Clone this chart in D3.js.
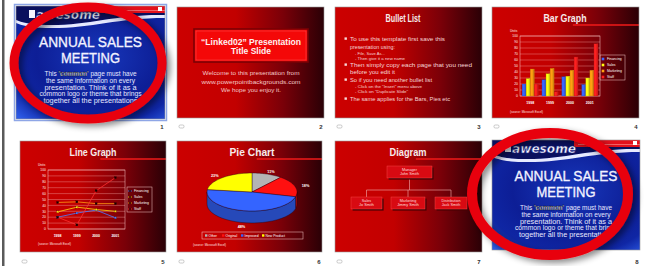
<!DOCTYPE html>
<html><head><meta charset="utf-8">
<script src="https://cdn.jsdelivr.net/npm/d3@7"></script>
<style>html,body{margin:0;padding:0;background:#fff;}svg{display:block}</style>
</head><body><svg id="c" width="645" height="266"></svg>
<script>
// ---------- data ----------
const years = ["1998", "1999", "2000", "2001"];
const seriesNames = ["Financing", "Sales", "Marketing", "Staff"];
const financing = [20, 27, 32, 19];
const sales = [29, 37, 33, 30];
const marketing = [45, 46, 43, 43];
const staff = [20, 7, 65, 87];
const axisTicks = [0, 10, 20, 30, 40, 50, 60, 70, 80, 90, 100];
const pieNames = ["Other", "Original", "Improved", "New Product"];
const pieValues = [11, 18, 48, 23];
const slideNumbers = ["1", "2", "3", "4", "5", "6", "7", "8"];
const slideTitles = ["ANNUAL SALES|MEETING", "“Linked02” Presentation|Title Slide", "Bullet List", "Bar Graph", "Line Graph", "Pie Chart", "Diagram", "ANNUAL SALES|MEETING"];
const introLines = ["This 'common' page must have", "the same information on every", "presentation. Think of it as a", "common logo or theme that brings", "together all the presentations"];
const welcomeLines = ["Welcome to this presentation from", "www.powerpointbackgrounds.com", "We hope you enjoy it."];
const bulletText = ["To use this template first save this", "presentation using:", "- File, Save As...", "- Then give it a new name", "Then simply copy each page that you need", "before you edit it", "So if you need another bullet list", "- Click on the \"Insert\" menu above", "- Click on \"Duplicate Slide\"", "The same applies for the Bars, Pies etc"];
const bulletLevel = [0, 0, 1, 1, 0, 0, 0, 1, 1, 0];
const bulletMark = [1, 0, 0, 0, 1, 0, 1, 0, 0, 1];
const orgTop = ["Manager", "John Smith"];
const orgStaff = [["Sales", "Jo Smith"], ["Marketing", "Jimmy Smith"], ["Distribution", "Jack Smith"]];
const unitsLabel = "Units";
const sourceLabel = "(source: Microsoft Excel)";
const logoText = "awesome";

// ---------- setup ----------
const svg = d3.select("#c");
const defs = svg.append("defs");
const NARROW = "'Liberation Sans Narrow','Arial Narrow','Liberation Sans',Arial,sans-serif";
const SANS = "'Liberation Sans',Arial,sans-serif";

const rg = defs.append("linearGradient").attr("id", "redbg").attr("x1", 0).attr("x2", 1).attr("y1", 0).attr("y2", 0);
[[0, "#cc0000"], [0.4, "#c20000"], [0.72, "#7a0008"], [1, "#2a0006"]].forEach(([o, c]) => rg.append("stop").attr("offset", o).attr("stop-color", c));
const bgr = defs.append("radialGradient").attr("id", "bluebg").attr("cx", 0.55).attr("cy", 0.45).attr("r", 0.75);
[[0, "#1838bc"], [0.55, "#0d1e96"], [0.8, "#0f26a4"], [1, "#2c5ae6"]].forEach(([o, c]) => bgr.append("stop").attr("offset", o).attr("stop-color", c));
const sh = defs.append("filter").attr("id", "shadow").attr("x", "-20%").attr("y", "-20%").attr("width", "140%").attr("height", "140%");
sh.append("feDropShadow").attr("dx", 4).attr("dy", 3).attr("stdDeviation", 3).attr("flood-color", "#000").attr("flood-opacity", 0.45);

function T(g, x, y, s, o = {}) {
  const t = g.append("text").attr("x", x).attr("y", y).text(s)
    .attr("font-family", o.family || NARROW).attr("font-size", o.size || 6)
    .attr("fill", o.fill || "#fff").attr("text-anchor", o.anchor || "start");
  if (o.weight) t.attr("font-weight", o.weight);
  if (o.len) t.attr("textLength", o.len).attr("lengthAdjust", "spacingAndGlyphs");
  return t;
}

// left pane border
svg.append("rect").attr("x", 2).attr("y", 0).attr("width", 2.5).attr("height", 266).attr("fill", "#5a5a5a");

const layout = [
  {x: 16, y: 6, w: 149, h: 113, kind: "title"},
  {x: 177, y: 7, w: 147, h: 111, kind: "linked"},
  {x: 335, y: 7, w: 147, h: 111, kind: "bullets"},
  {x: 492, y: 7, w: 147, h: 111, kind: "bar"},
  {x: 20, y: 141, w: 146, h: 111, kind: "line"},
  {x: 177, y: 141, w: 145, h: 111, kind: "pie"},
  {x: 335, y: 141, w: 147, h: 111, kind: "diagram"},
  {x: 492, y: 140, w: 148, h: 110, kind: "title"}
];

const colors = {Financing: "#3a66ff", Sales: "#ffff10", Marketing: "#ffa010", Staff: "#ff2020"};
const seriesData = [financing, sales, marketing, staff];

function redBase(g, s, title, cx, len, line = true) {
  g.append("rect").attr("width", s.w).attr("height", s.h).attr("fill", "url(#redbg)");
  if (line) g.append("line").attr("x1", s.w * 0.55).attr("x2", s.w).attr("y1", 18).attr("y2", 18).attr("stroke", "#f01a1a").attr("stroke-width", 1.3);
  T(g, cx, 15, title, {size: 10, weight: "bold", anchor: "middle", fill: "#f6eaea", len: len});
}

function titleSlide(g, s, title) {
  const w = s.w;
  g.append("rect").attr("width", w).attr("height", s.h).attr("fill", "url(#bluebg)");
  g.append("path").attr("d", `M0,0 H${w} V9 C100,8 72,20 30,19 C15,19 5,16 0,14 Z`).attr("fill", "#0a105e");
  g.append("path").attr("d", `M0,14 C5,16 15,19 30,19 C72,20 100,8 ${w},9 V12 C100,12 74,23 30,22 C15,22 5,19 0,17 Z`).attr("fill", "#e6eaff");
  g.append("rect").attr("x", 82).attr("y", 0).attr("width", w - 82).attr("height", 7).attr("fill", "#e4101c");
  g.append("line").attr("x1", 86).attr("x2", w).attr("y1", 4.5).attr("y2", 4.5).attr("stroke", "#ff9a9a").attr("stroke-width", 0.6);
  g.append("rect").attr("x", w - 7).attr("y", 1).attr("width", 4).attr("height", 4).attr("fill", "#fff");
  g.append("rect").attr("x", 13).attr("y", 4).attr("width", 6).attr("height", 8).attr("fill", "#f4f4ff");
  T(g, 20, 13, logoText, {size: 12, weight: "bold", family: "DejaVu Sans", fill: "#fff", len: 64})
    .attr("font-style", "italic").attr("stroke", "#1a2a90").attr("stroke-width", 0.5);
  const [l1, l2] = title.split("|");
  T(g, w / 2, 41, l1, {size: 15, anchor: "middle", fill: "#f2f2ff", len: 103}).attr("stroke", "#f2f2ff").attr("stroke-width", 0.35);
  T(g, w / 2, 57, l2, {size: 15, anchor: "middle", fill: "#f2f2ff", len: 59}).attr("stroke", "#f2f2ff").attr("stroke-width", 0.35);
  const lens = [92, 89, 92, 102, 94];
  introLines.forEach((l, i) => {
    const t = T(g, w / 2, 70 + i * 6.8, "", {size: 6.8, anchor: "middle", fill: "#e6e8ff", len: lens[i]});
    const m = l.match(/^(.*)('common')(.*)$/);
    if (m) {
      t.append("tspan").text(m[1]);
      t.append("tspan").text(m[2]).attr("font-weight", "bold").attr("fill", "#fff").attr("stroke", "#000").attr("stroke-width", 0.3);
      t.append("tspan").text(m[3]);
    } else t.text(l);
  });
}

function linkedSlide(g, s, title) {
  g.append("rect").attr("width", s.w).attr("height", s.h).attr("fill", "url(#redbg)");
  g.append("rect").attr("x", 17).attr("y", 22).attr("width", 114).attr("height", 33).attr("fill", "#f40808").attr("stroke", "#7a0004").attr("stroke-width", 1.6);
  g.append("rect").attr("x", 19).attr("y", 24).attr("width", 110).attr("height", 29).attr("fill", "none").attr("stroke", "#ff5050").attr("stroke-width", 0.5);
  const [l1, l2] = title.split("|");
  T(g, 74, 38, l1, {size: 9, weight: "bold", anchor: "middle", fill: "#fff0f0", len: 100});
  T(g, 74, 46.5, l2, {size: 9, weight: "bold", anchor: "middle", fill: "#fff0f0", len: 40});
  const lens = [97, 99, 60];
  welcomeLines.forEach((l, i) => T(g, 74, [68, 77, 85][i], l, {size: 6.2, anchor: "middle", fill: "#f4c8c8", len: lens[i]}));
}

function bulletSlide(g, s, title) {
  redBase(g, s, title, 68, 35, false);
  const ys = [34, 42, 48, 52.5, 60, 66.5, 75, 81, 86, 94];
  const lens = [95, 45, 30, 50, 122, 45, 82, 67, 53, 100];
  bulletText.forEach((t, i) => {
    const sub = bulletLevel[i] === 1;
    if (bulletMark[i]) g.append("rect").attr("x", 9.5).attr("y", ys[i] - 3.6).attr("width", 2.4).attr("height", 2.4).attr("fill", "#f8d8d8");
    T(g, sub ? 20 : 15, ys[i], t, {size: sub ? 4.4 : 6, fill: "#f6d6d6", len: lens[i]});
  });
}

function axesFrame(g, x0, x1, y) {
  axisTicks.forEach(v => {
    g.append("line").attr("x1", x0).attr("x2", x1).attr("y1", y(v)).attr("y2", y(v)).attr("stroke", "#f2a4a4").attr("stroke-width", 0.4);
    T(g, x0 - 2, y(v) + 1.2, String(v), {size: 3.4, anchor: "end", family: SANS, fill: "#ffeaea"});
  });
  g.append("rect").attr("x", x0).attr("y", y(100)).attr("width", x1 - x0).attr("height", y(0) - y(100)).attr("fill", "none").attr("stroke", "#f6caca").attr("stroke-width", 0.5);
  T(g, x0 - 10, y(100) - 4, unitsLabel, {size: 3.2, family: SANS, fill: "#ffeaea"});
}

function legendBox(g, x, y0, symbol) {
  g.append("rect").attr("x", x).attr("y", y0).attr("width", 25).attr("height", 25).attr("fill", "none").attr("stroke", "#f6caca").attr("stroke-width", 0.5);
  seriesNames.forEach((n, i) => {
    const yy = y0 + 4 + i * 6;
    symbol(g, x + 3, yy, n);
    T(g, x + 7, yy + 1.3, n, {size: 3.4, family: SANS, fill: "#fff"});
  });
}

function barSlide(g, s, title) {
  redBase(g, s, title, 73, 43);
  const y = d3.scaleLinear().domain([0, 100]).range([89, 29]);
  axesFrame(g, 28, 108, y);
  const x = d3.scaleBand().domain(years).range([28, 108]).paddingInner(0.18).paddingOuter(0.1);
  const xs = d3.scaleBand().domain(seriesNames).range([0, x.bandwidth()]).padding(0.02);
  years.forEach((yr, i) => {
    seriesNames.forEach((n, k) => {
      const v = seriesData[k][i];
      g.append("rect").attr("x", x(yr) + xs(n)).attr("y", y(v)).attr("width", xs.bandwidth()).attr("height", y(0) - y(v))
        .attr("fill", colors[n]).attr("stroke", d3.color(colors[n]).darker(1.2)).attr("stroke-width", 0.3);
      g.append("rect").attr("x", x(yr) + xs(n) + xs.bandwidth() * 0.65).attr("y", y(v)).attr("width", xs.bandwidth() * 0.35).attr("height", y(0) - y(v))
        .attr("fill", d3.color(colors[n]).darker(0.6));
    });
    T(g, x(yr) + x.bandwidth() / 2, 97, yr, {size: 3.6, anchor: "middle", family: SANS, weight: "bold", fill: "#fff"});
  });
  legendBox(g, 108, 48, (gg, xx, yy, n) => gg.append("rect").attr("x", xx - 1.3).attr("y", yy - 1.3).attr("width", 2.6).attr("height", 2.6).attr("fill", colors[n]));
  T(g, 18, 106, sourceLabel, {size: 3, family: SANS, fill: "#ffe0e0"});
}

function lineSlide(g, s, title) {
  redBase(g, s, title, 73, 47);
  const y = d3.scaleLinear().domain([0, 100]).range([88, 29]);
  axesFrame(g, 28, 105, y);
  const x = d3.scalePoint().domain(years).range([28, 105]).padding(0.5);
  const lineColors = {Financing: "#4a7cff", Sales: "#ffd810", Marketing: "#ff9a10", Staff: "#ff3030"};
  const line = d3.line().x((d, i) => x(years[i])).y(d => y(d));
  seriesNames.forEach((n, k) => {
    g.append("path").attr("d", line(seriesData[k])).attr("fill", "none").attr("stroke", lineColors[n]).attr("stroke-width", 0.8);
    seriesData[k].forEach((v, i) => {
      g.append("rect").attr("x", x(years[i]) - 1).attr("y", y(v) - 1).attr("width", 2).attr("height", 2)
        .attr("fill", k < 2 ? lineColors[n] : "#1a0000").attr("stroke", "#220000").attr("stroke-width", 0.2);
    });
  });
  years.forEach(yr => T(g, x(yr), 96, yr, {size: 3.6, anchor: "middle", family: SANS, weight: "bold", fill: "#fff"}));
  legendBox(g, 107, 46, (gg, xx, yy, n) => {
    gg.append("line").attr("x1", xx - 2).attr("x2", xx + 2).attr("y1", yy).attr("y2", yy).attr("stroke", lineColors[n]).attr("stroke-width", 0.8);
    gg.append("rect").attr("x", xx - 0.8).attr("y", yy - 0.8).attr("width", 1.6).attr("height", 1.6).attr("fill", "#1a0000");
  });
  T(g, 18, 104, sourceLabel, {size: 3, family: SANS, fill: "#ffe0e0"});
}

function pieSlide(g, s, title) {
  redBase(g, s, title, 75, 45);
  const cx = 75, cy = 51, rx = 45, ry = 19, depth = 12;
  const pcol = {"Other": "#b4b4b4", "Original": "#ff1010", "Improved": "#3464ff", "New Product": "#ffff00"};
  const arcs = d3.pie().sort(null).value(d => d)(pieValues);
  const pt = (a, dy = 0) => [cx + rx * Math.sin(a), cy - ry * Math.cos(a) + dy];
  const arcPts = (a0, a1, dy = 0) => d3.range(0, 25).map(j => pt(a0 + (a1 - a0) * j / 24, dy));
  arcs.forEach((d, i) => {
    const s0 = Math.max(d.startAngle, Math.PI / 2), s1 = Math.min(d.endAngle, 3 * Math.PI / 2);
    if (s1 > s0) {
      const pts = arcPts(s0, s1).concat(arcPts(s0, s1, depth).reverse());
      g.append("path").attr("d", "M" + pts.map(p => p.join(",")).join("L") + "Z")
        .attr("fill", d3.color(pcol[pieNames[i]]).darker(0.9)).attr("stroke", "#200010").attr("stroke-width", 0.4);
    }
  });
  arcs.forEach((d, i) => {
    const pts = [[cx, cy]].concat(arcPts(d.startAngle, d.endAngle));
    g.append("path").attr("d", "M" + pts.map(p => p.join(",")).join("L") + "Z")
      .attr("fill", pcol[pieNames[i]]).attr("stroke", "#200010").attr("stroke-width", 0.4);
    const mid = (d.startAngle + d.endAngle) / 2;
    const lx = cx + rx * 1.25 * Math.sin(mid);
    const ly = cy - ry * 1.2 * Math.cos(mid) + (Math.cos(mid) < 0 ? depth : 0) + 2;
    T(g, lx, ly, pieValues[i] + "%", {size: 3.8, anchor: "middle", family: SANS, weight: "bold", fill: "#fff"});
  });
  // legend
  g.append("rect").attr("x", 25).attr("y", 91).attr("width", 101).attr("height", 7).attr("fill", "none").attr("stroke", "#f6caca").attr("stroke-width", 0.5);
  const lx = d3.scaleOrdinal().domain(pieNames).range([28, 45, 64, 85]);
  pieNames.forEach(n => {
    g.append("rect").attr("x", lx(n)).attr("y", 93.3).attr("width", 2.4).attr("height", 2.4).attr("fill", pcol[n]);
    T(g, lx(n) + 3.5, 95.8, n, {size: 3.4, family: SANS, fill: "#fff"});
  });
  T(g, 16, 105, sourceLabel, {size: 3, family: SANS, fill: "#ffe0e0"});
}

function orgBox(g, x, y, w, h, lines) {
  g.append("rect").attr("x", x + 1.6).attr("y", y + 1.6).attr("width", w).attr("height", h).attr("fill", "#4a0004");
  g.append("rect").attr("x", x).attr("y", y).attr("width", w).attr("height", h).attr("fill", "#d80a12").attr("stroke", "#ff5050").attr("stroke-width", 0.4);
  lines.forEach((l, i) => T(g, x + w / 2, y + 5 + i * 4.2, l, {size: 3.8, anchor: "middle", family: SANS, fill: "#ffdede"}));
}

function diagramSlide(g, s, title) {
  redBase(g, s, title, 73, 37);
  const lc = "#f4b0b0";
  const conn = [[74.5, 37, 74.5, 49], [31.5, 49, 116, 49], [31.5, 49, 31.5, 56], [73, 49, 73, 56], [116, 49, 116, 56]];
  conn.forEach(c => g.append("line").attr("x1", c[0]).attr("y1", c[1]).attr("x2", c[2]).attr("y2", c[3]).attr("stroke", lc).attr("stroke-width", 0.6));
  orgBox(g, 52, 25, 45, 12, orgTop);
  const bx = [[16, 31], [56, 34], [100, 32]];
  orgStaff.forEach((l, i) => orgBox(g, bx[i][0], 56, bx[i][1], 12, l));
}

layout.forEach((s, i) => {
  const g = svg.append("g").attr("transform", `translate(${s.x},${s.y})`);
  const t = slideTitles[i];
  if (s.kind === "title") titleSlide(g, s, t);
  else if (s.kind === "linked") linkedSlide(g, s, t);
  else if (s.kind === "bullets") bulletSlide(g, s, t);
  else if (s.kind === "bar") barSlide(g, s, t);
  else if (s.kind === "line") lineSlide(g, s, t);
  else if (s.kind === "pie") pieSlide(g, s, t);
  else diagramSlide(g, s, t);
  g.append("rect").attr("width", s.w).attr("height", s.h).attr("fill", "none").attr("stroke", "#9a9a9a").attr("stroke-width", 0.6);
  const row = i < 4 ? 129 : 264;
  T(svg, s.x + s.w - 3, row, slideNumbers[i], {size: 6, anchor: "middle", family: SANS, fill: "#333", weight: "bold"});
  if (i !== 0 && i !== 7) {
    svg.append("rect").attr("x", s.x + 2).attr("y", row - 4).attr("width", 5).attr("height", 3).attr("rx", 1.2).attr("fill", "none").attr("stroke", "#aaa").attr("stroke-width", 0.6);
  }
});

// selection border on slide 1
svg.append("rect").attr("x", 14.5).attr("y", 4.5).attr("width", 152).attr("height", 116).attr("fill", "none").attr("stroke", "#8ea6e6").attr("stroke-width", 1.5);

// red highlight ellipses
svg.append("ellipse").attr("cx", 88).attr("cy", 63).attr("rx", 74).attr("ry", 56)
  .attr("fill", "none").attr("stroke", "#e8000c").attr("stroke-width", 9).attr("filter", "url(#shadow)");
svg.append("ellipse").attr("cx", 550).attr("cy", 194).attr("rx", 78).attr("ry", 61)
  .attr("fill", "none").attr("stroke", "#e8000c").attr("stroke-width", 10).attr("filter", "url(#shadow)");
</script></body></html>
